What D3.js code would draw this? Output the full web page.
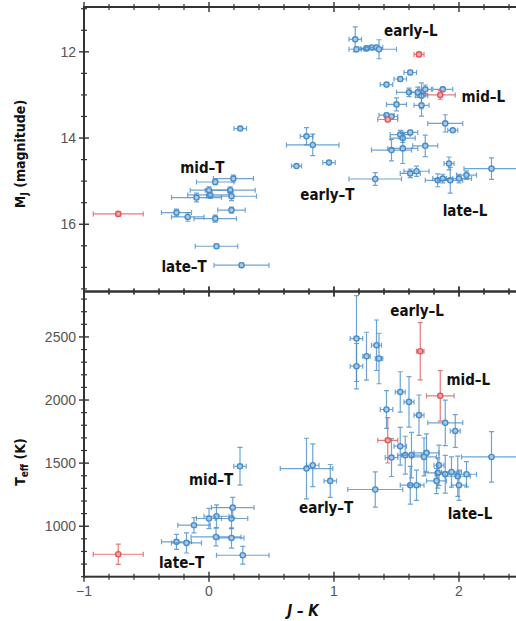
<!DOCTYPE html>
<html>
<head>
<meta charset="utf-8">
<script src="https://cdn.jsdelivr.net/npm/d3@7"></script>
<style>
  body { margin: 0; background: #fff; }
  svg { display: block; }
  .lbl { font-family: "Liberation Sans Narrow", "DejaVu Sans Condensed", "Liberation Sans", sans-serif; font-weight: bold; font-stretch: condensed; fill: #111; }
  .tick-lbl { font-family: "Liberation Sans", Arial, sans-serif; fill: #555; }
</style>
</head>
<body>
<div id="chart"></div>
<script>
// [J-K, err, M_J, err]
const magBlue = [
  [-0.26, 0.12, 15.73, 0.08], [-0.17, 0.13, 15.83, 0.10], [0.05, 0.17, 15.87, 0.08],
  [0.18, 0.11, 15.67, 0.07], [-0.10, 0.20, 15.38, 0.10], [0.01, 0.18, 15.32, 0.08],
  [0.17, 0.20, 15.21, 0.08], [0.00, 0.15, 15.21, 0.08], [0.18, 0.20, 15.35, 0.10],
  [0.05, 0.15, 15.02, 0.06], [0.195, 0.16, 14.94, 0.08], [0.06, 0.17, 16.51, 0.05],
  [0.26, 0.22, 16.95, 0.05], [0.25, 0.05, 13.78, 0.04],
  [0.78, 0.05, 13.96, 0.20], [0.83, 0.21, 14.16, 0.25], [0.70, 0.04, 14.65, 0.03],
  [0.96, 0.05, 14.57, 0.03],
  [1.33, 0.21, 14.95, 0.15], [1.17, 0.05, 11.71, 0.29], [1.18, 0.06, 11.94, 0.05],
  [1.26, 0.05, 11.92, 0.05], [1.30, 0.05, 11.90, 0.04], [1.34, 0.05, 11.90, 0.05],
  [1.36, 0.14, 11.94, 0.22], [1.61, 0.05, 12.48, 0.05], [1.53, 0.05, 12.63, 0.05],
  [1.42, 0.05, 12.76, 0.04], [1.60, 0.10, 12.94, 0.10], [1.67, 0.06, 12.94, 0.12],
  [1.73, 0.05, 12.87, 0.10], [1.70, 0.05, 13.02, 0.30], [1.87, 0.08, 12.87, 0.05],
  [1.50, 0.08, 13.22, 0.15], [1.70, 0.06, 13.24, 0.25], [1.42, 0.06, 13.47, 0.05],
  [1.46, 0.05, 13.50, 0.04], [1.89, 0.14, 13.66, 0.20], [1.95, 0.04, 13.82, 0.03],
  [1.53, 0.08, 13.92, 0.10], [1.61, 0.06, 13.87, 0.05], [1.55, 0.10, 14.00, 0.10],
  [1.73, 0.10, 14.18, 0.25], [1.46, 0.16, 14.28, 0.25], [1.55, 0.12, 14.24, 0.35],
  [1.61, 0.08, 14.82, 0.10], [1.66, 0.10, 14.77, 0.12], [1.92, 0.04, 14.59, 0.15],
  [1.83, 0.10, 14.98, 0.15], [1.87, 0.08, 14.94, 0.10], [1.93, 0.10, 14.98, 0.30],
  [2.00, 0.10, 14.94, 0.10], [2.06, 0.08, 14.86, 0.10], [2.26, 0.22, 14.71, 0.25]
];
const magRed = [
  [-0.726, 0.20, 15.76, 0.05], [1.68, 0.04, 12.06, 0.05],
  [1.85, 0.12, 13.00, 0.10], [1.43, 0.08, 13.57, 0.05]
];
// [J-K, err, Teff, err]
const teffBlue = [
  [-0.26, 0.12, 876, 60], [-0.18, 0.12, 868, 80], [-0.12, 0.13, 1008, 60],
  [0.00, 0.10, 1061, 80], [0.06, 0.10, 1079, 90], [0.18, 0.13, 1061, 80],
  [0.19, 0.17, 1148, 80], [0.056, 0.20, 915, 70], [0.18, 0.10, 907, 80],
  [0.27, 0.21, 770, 70], [0.248, 0.05, 1475, 150],
  [0.78, 0.21, 1457, 240], [0.83, 0.05, 1483, 170], [0.97, 0.05, 1359, 130],
  [1.33, 0.22, 1291, 140], [1.18, 0.05, 2487, 340], [1.18, 0.05, 2268, 180],
  [1.26, 0.03, 2347, 190], [1.34, 0.04, 2434, 200], [1.36, 0.03, 2329, 200],
  [1.42, 0.05, 1925, 150], [1.53, 0.04, 2064, 160], [1.60, 0.04, 1985, 200],
  [1.68, 0.04, 1880, 160], [1.89, 0.14, 1819, 180], [1.97, 0.04, 1755, 130],
  [1.53, 0.05, 1634, 150], [1.46, 0.05, 1544, 150], [1.57, 0.06, 1563, 150],
  [1.62, 0.08, 1563, 180], [1.74, 0.10, 1581, 150], [1.72, 0.10, 1549, 150],
  [1.84, 0.04, 1483, 160], [2.26, 0.24, 1549, 200], [1.83, 0.10, 1422, 120],
  [1.89, 0.08, 1412, 150], [1.94, 0.08, 1430, 120], [1.99, 0.10, 1396, 160],
  [2.06, 0.08, 1412, 100], [1.82, 0.08, 1359, 100], [2.00, 0.06, 1325, 120],
  [1.61, 0.08, 1325, 150], [1.66, 0.06, 1325, 120]
];
const teffRed = [
  [-0.726, 0.20, 778, 80], [1.69, 0.03, 2387, 227],
  [1.85, 0.11, 2033, 200], [1.43, 0.08, 1681, 180]
];
// [text, J-K (left), y value (baseline)]
const magLabels = [
  ["early-L", 1.40, 11.64], ["mid-L", 2.02, 13.17], ["late-L", 1.87, 15.81],
  ["early-T", 0.73, 15.44], ["mid-T", -0.23, 14.81], ["late-T", -0.38, 17.11]
];
const teffLabels = [
  ["early-L", 1.45, 2664], ["mid-L", 1.90, 2117], ["late-L", 1.91, 1055],
  ["early-T", 0.72, 1105], ["mid-T", -0.16, 1325], ["late-T", -0.40, 667]
];
const xTicks = [-1, 0, 1, 2];
const magTicks = [12, 14, 16];
const teffTicks = [1000, 1500, 2000, 2500];

const W = 516, H = 621;
const blue = "#4a8cc8", blueFill = "#a6c9e8", red = "#e0575a", redFill = "#f2a9a9";
const axisCol = "#333";

const svg = d3.select("#chart").append("svg").attr("width", W).attr("height", H);

const x = d3.scaleLinear().domain([-1, 2.5]).range([84, 521.5]);
const yMag = d3.scaleLinear().domain([10.96, 17.56]).range([7, 291.5]);
const yTeff = d3.scaleLinear().domain([600, 2860]).range([576.7, 291.5]);

function panel(y, blueData, redData, labels, yTickVals, yMinorStep) {
  const g = svg.append("g");
  const [y0, y1] = y.range();
  const top = Math.min(y0, y1), bot = Math.max(y0, y1);
  const [d0, d1] = y.domain();

  // minor ticks
  const xMinor = d3.range(-1, 2.5001, 0.2).filter(v => Math.abs(v - Math.round(v)) > 1e-6);
  [top, bot].forEach(py => {
    g.selectAll(null).data(xMinor).join("line")
      .attr("x1", d => x(d)).attr("x2", d => x(d))
      .attr("y1", py - 3).attr("y2", py + 3)
      .attr("stroke", axisCol).attr("stroke-width", 1.2);
    g.selectAll(null).data(xTicks).join("line")
      .attr("x1", d => x(d)).attr("x2", d => x(d))
      .attr("y1", py - 5).attr("y2", py + 5)
      .attr("stroke", axisCol).attr("stroke-width", 1.4);
  });
  const lo = Math.min(d0, d1), hi = Math.max(d0, d1);
  const yMinor = d3.range(Math.ceil(lo / yMinorStep) * yMinorStep, hi, yMinorStep)
    .filter(v => !yTickVals.includes(v));
  [x(-1), x(2.5)].forEach(px => {
    g.selectAll(null).data(yMinor).join("line")
      .attr("x1", px - 3).attr("x2", px + 3)
      .attr("y1", d => y(d)).attr("y2", d => y(d))
      .attr("stroke", axisCol).attr("stroke-width", 1.2);
    g.selectAll(null).data(yTickVals).join("line")
      .attr("x1", px - 5).attr("x2", px + 5)
      .attr("y1", d => y(d)).attr("y2", d => y(d))
      .attr("stroke", axisCol).attr("stroke-width", 1.4);
  });

  // frame
  g.append("rect")
    .attr("x", x(-1)).attr("y", top)
    .attr("width", x(2.5) - x(-1)).attr("height", bot - top)
    .attr("fill", "none").attr("stroke", axisCol).attr("stroke-width", 2);

  // y tick labels
  g.selectAll(null).data(yTickVals).join("text")
    .attr("class", "tick-lbl")
    .attr("x", x(-1) - 8).attr("y", d => y(d) + 5)
    .attr("text-anchor", "end").attr("font-size", 14)
    .text(d => d);

  function points(data, col, fill) {
    const pg = g.append("g");
    const cap = 2.5;
    data.forEach(d => {
      const cx = x(d[0]), cy = y(d[2]);
      const xl = x(d[0] - d[1]), xr = x(d[0] + d[1]);
      const ya = y(d[2] - d[3]), yb = y(d[2] + d[3]);
      pg.append("path")
        .attr("d", `M${xl},${cy}H${xr}M${xl},${cy - cap}V${cy + cap}M${xr},${cy - cap}V${cy + cap}` +
                   `M${cx},${ya}V${yb}M${cx - cap},${ya}H${cx + cap}M${cx - cap},${yb}H${cx + cap}`)
        .attr("stroke", col).attr("stroke-width", 1.2).attr("fill", "none").attr("opacity", 0.8);
      pg.append("circle")
        .attr("cx", cx).attr("cy", cy).attr("r", 2.6)
        .attr("fill", fill).attr("stroke", col).attr("stroke-width", 1.4);
    });
  }
  points(blueData, blue, blueFill);
  points(redData, red, redFill);

  g.selectAll(null).data(labels).join("text")
    .attr("class", "lbl")
    .attr("x", d => x(d[1])).attr("y", d => y(d[2]))
    .attr("font-size", 15)
    .text(d => d[0].replace("-", "\u2013"));
}

panel(yMag, magBlue, magRed, magLabels, magTicks, 0.5);
panel(yTeff, teffBlue, teffRed, teffLabels, teffTicks, 100);

// x tick labels
svg.selectAll(null).data(xTicks).join("text")
  .attr("class", "tick-lbl")
  .attr("x", d => x(d)).attr("y", 596)
  .attr("text-anchor", "middle").attr("font-size", 14)
  .text(d => d < 0 ? "\u2212" + Math.abs(d) : d);

// axis titles
svg.append("text")
  .attr("class", "lbl")
  .attr("x", 303).attr("y", 616)
  .attr("text-anchor", "middle").attr("font-size", 15)
  .attr("font-style", "italic")
  .text("J \u2013 K");

const magTitle = svg.append("text")
  .attr("class", "lbl")
  .attr("transform", "translate(25,154) rotate(-90)")
  .attr("text-anchor", "middle").attr("font-size", 14);
magTitle.append("tspan").text("M");
magTitle.append("tspan").attr("font-size", 10).attr("dy", 3).text("J");
magTitle.append("tspan").attr("dy", -3).text(" (magnitude)");

const teffTitle = svg.append("text")
  .attr("class", "lbl")
  .attr("transform", "translate(25,462) rotate(-90)")
  .attr("text-anchor", "middle").attr("font-size", 14);
teffTitle.append("tspan").text("T");
teffTitle.append("tspan").attr("font-size", 10).attr("dy", 3).text("eff");
teffTitle.append("tspan").attr("dy", -3).text(" (K)");
</script>
</body>
</html>
